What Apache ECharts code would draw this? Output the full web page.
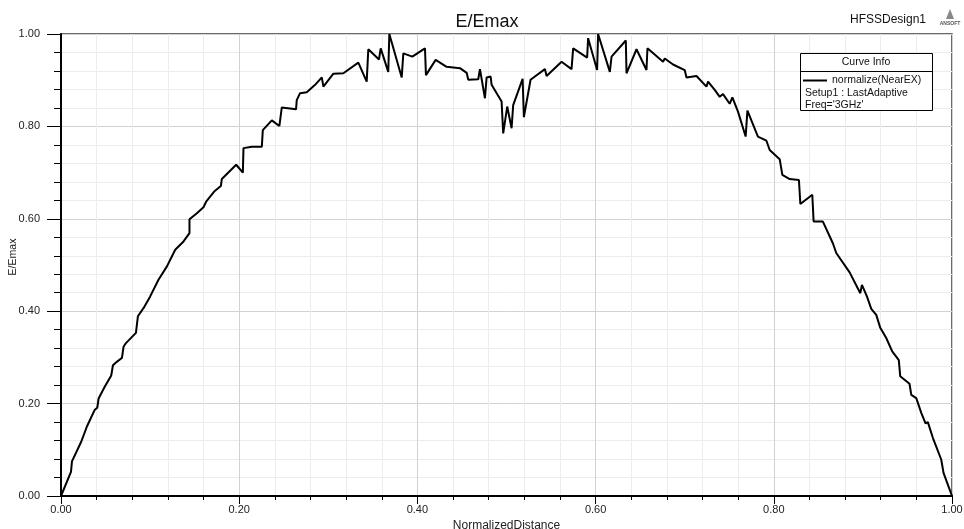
<!DOCTYPE html>
<html>
<head>
<meta charset="utf-8">
<script src="https://cdn.jsdelivr.net/npm/echarts@6/dist/echarts.min.js"></script>
<style>html,body{margin:0;padding:0;background:#fff}#c{width:964px;height:529px}</style>
</head>
<body>
<div id="c"></div>
<script>
var xValues = [0,0.0112,0.0123,0.0228,0.0292,0.0377,0.0407,0.0422,0.0489,0.0564,0.0583,0.0617,0.0684,0.0702,0.0729,0.0841,0.0863,0.0937,0.1001,0.1094,0.1189,0.1282,0.1375,0.1442,0.1442,0.1525,0.1599,0.1629,0.1719,0.1794,0.1805,0.1966,0.2041,0.2048,0.2142,0.2254,0.2265,0.2366,0.2451,0.2478,0.2638,0.2646,0.2683,0.2758,0.2852,0.2927,0.2945,0.3057,0.3169,0.3337,0.3431,0.3449,0.3569,0.3588,0.3673,0.3685,0.3824,0.3842,0.3943,0.4085,0.4096,0.4205,0.4328,0.4478,0.4553,0.4571,0.4683,0.4702,0.4758,0.4777,0.4822,0.4833,0.4945,0.4963,0.5008,0.5057,0.5075,0.5181,0.5195,0.5270,0.5431,0.5450,0.5618,0.5730,0.5748,0.5905,0.5916,0.6017,0.6028,0.6160,0.6179,0.6339,0.6347,0.6459,0.6571,0.6582,0.6757,0.6776,0.6869,0.7000,0.7020,0.7132,0.7244,0.7262,0.7337,0.7393,0.7430,0.7505,0.7535,0.7598,0.7684,0.7704,0.7822,0.7917,0.7954,0.8066,0.8096,0.8178,0.8282,0.8298,0.8432,0.8447,0.8551,0.8663,0.8701,0.8851,0.8971,0.8989,0.9045,0.9094,0.9150,0.9195,0.9262,0.9329,0.9403,0.9419,0.9523,0.9543,0.9599,0.9655,0.9703,0.9729,0.9785,0.9879,0.9905,1.0];
var yValues = [0,0.052,0.075,0.118,0.151,0.186,0.191,0.211,0.236,0.261,0.283,0.289,0.299,0.323,0.331,0.353,0.389,0.410,0.432,0.468,0.497,0.533,0.551,0.569,0.599,0.612,0.625,0.637,0.659,0.671,0.686,0.717,0.700,0.753,0.756,0.756,0.792,0.813,0.801,0.841,0.837,0.857,0.872,0.874,0.890,0.906,0.886,0.914,0.915,0.938,0.897,0.967,0.945,0.969,0.918,1.000,0.906,0.958,0.951,0.969,0.911,0.944,0.929,0.926,0.916,0.901,0.902,0.924,0.861,0.906,0.908,0.890,0.854,0.785,0.843,0.796,0.846,0.903,0.820,0.901,0.924,0.909,0.940,0.924,0.969,0.949,0.991,0.922,1.000,0.918,0.951,0.986,0.915,0.967,0.922,0.969,0.940,0.947,0.934,0.922,0.906,0.909,0.886,0.897,0.879,0.864,0.870,0.849,0.863,0.832,0.778,0.834,0.778,0.769,0.749,0.729,0.695,0.686,0.684,0.632,0.652,0.594,0.594,0.547,0.526,0.484,0.439,0.457,0.432,0.405,0.392,0.364,0.342,0.313,0.294,0.259,0.243,0.219,0.212,0.180,0.157,0.160,0.126,0.079,0.050,0];
var seriesName = "normalize(NearEX)";
var tickLabels = ["0.00","0.20","0.40","0.60","0.80","1.00"];

var data = xValues.map(function(x,i){return [x,yValues[i]];});
var FONT = "'Liberation Sans', Arial, sans-serif";
var chart = echarts.init(document.getElementById('c'), null, {renderer:'canvas'});
var axisCommon = {
  type:'value', min:0, max:1, interval:0.2,
  axisLine:{show:true, onZero:false, lineStyle:{color:'#000', width:2}},
  splitLine:{show:true, lineStyle:{color:'#d2d2d2', width:1}},
  minorSplitLine:{show:true, lineStyle:{color:'#ececec', width:1}},
  nameLocation:'middle'
};
var option = {
  backgroundColor:'#fff',
  animation:false,
  title:{text:'E/Emax', left:482, top:8, textAlign:'center',
    textStyle:{fontFamily:FONT, fontSize:18, fontWeight:'normal', color:'#111'}},
  grid:{left:61, right:12, top:34, bottom:33, containLabel:false, outerBoundsMode:'none',
    show:true, borderColor:'#3a3a3a', borderWidth:1.5, backgroundColor:'#fff'},
  xAxis:Object.assign({}, axisCommon, {
    name:'NormalizedDistance', nameGap:16,
    nameTextStyle:{color:'#222', fontFamily:FONT, fontSize:12},
    axisTick:{show:true, length:8, lineStyle:{color:'#000'}},
    minorTick:{show:true, splitNumber:5, length:4, lineStyle:{color:'#000'}},
    axisLabel:{formatter:function(v){return tickLabels[Math.round(v/0.2)];}, color:'#222', fontFamily:FONT, fontSize:11, margin:8}
  }),
  yAxis:Object.assign({}, axisCommon, {
    name:'', 
    axisTick:{show:true, length:14, lineStyle:{color:'#000'}},
    minorTick:{show:true, splitNumber:5, length:7, lineStyle:{color:'#000'}},
    axisLabel:{formatter:function(v){return tickLabels[Math.round(v/0.2)];}, color:'#222', fontFamily:FONT, fontSize:11, margin:21}
  }),
  legend:{show:true, left:803, top:75, z:60, itemWidth:24, itemHeight:2, itemGap:0, icon:'rect',
    textStyle:{fontFamily:FONT, fontSize:10.5, color:'#111'}, padding:0,
    data:[seriesName]},
  series:[{
    name:seriesName, type:'line', data:data, showSymbol:false, symbol:'none',
    lineStyle:{color:'#000', width:2}, itemStyle:{color:'#000'}, z:5
  }],
  graphic:[
    {type:'text', x:13.5, y:257, rotation:Math.PI/2, style:{text:'E/Emax', font:'10.5px '+FONT, fill:'#222', align:'center', verticalAlign:'middle'}},
    {type:'text', left:850, top:14, style:{text:'HFSSDesign1', font:'12px '+FONT, fill:'#111'}},
    {type:'polygon', shape:{points:[[946,19],[950,9],[954,19]]}, style:{fill:'#888'}},
    {type:'text', x:950, y:21, style:{text:'ANSOFT', font:'bold 5px '+FONT, fill:'#555', align:'center'}},
    {type:'rect', shape:{x:800.5, y:53.5, width:132, height:57}, style:{fill:'#fff', stroke:'#000', lineWidth:1}, z:50},
    {type:'line', shape:{x1:800.5, y1:71.5, x2:932.5, y2:71.5}, style:{stroke:'#000', lineWidth:1}, z:51},
    {type:'text', x:866, y:57, style:{text:'Curve Info', font:'10.5px '+FONT, fill:'#111', align:'center'}, z:51},
    {type:'text', x:805, y:88, style:{text:'Setup1 : LastAdaptive', font:'10.5px '+FONT, fill:'#111'}, z:51},
    {type:'text', x:805, y:100, style:{text:"Freq='3GHz'", font:'10.5px '+FONT, fill:'#111'}, z:51}
  ]
};
chart.setOption(option);
</script>
</body>
</html>
